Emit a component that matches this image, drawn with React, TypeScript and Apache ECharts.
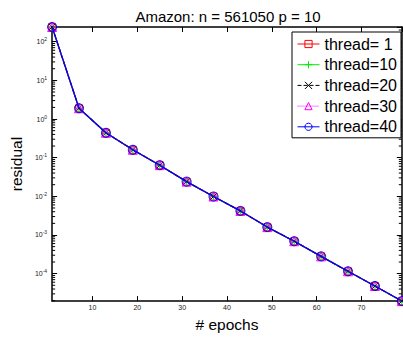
import React, { useEffect, useRef } from 'react';
import * as echarts from 'echarts';

// ---- data ----
const epochs = [1, 7, 13, 19, 25, 31, 37, 43, 49, 55, 61, 67, 73, 79];
const residualThread1 = [240, 1.9, 0.44, 0.16, 0.064, 0.024, 0.0099, 0.0042, 0.0016, 0.00069, 0.00028, 0.000115, 0.000048, 0.0000195];
const residualThread10 = [240, 1.9, 0.44, 0.16, 0.064, 0.024, 0.0099, 0.0042, 0.0016, 0.00069, 0.00028, 0.000115, 0.000048, 0.0000195];
const residualThread20 = [240, 1.9, 0.44, 0.16, 0.064, 0.024, 0.0099, 0.0042, 0.0016, 0.00069, 0.00028, 0.000115, 0.000048, 0.0000195];
const residualThread30 = [240, 1.9, 0.44, 0.16, 0.064, 0.024, 0.0099, 0.0042, 0.0016, 0.00069, 0.00028, 0.000115, 0.000048, 0.0000195];
const residualThread40 = [240, 1.9, 0.44, 0.16, 0.064, 0.024, 0.0099, 0.0042, 0.0016, 0.00069, 0.00028, 0.000115, 0.000048, 0.0000195];
const seriesNames = ['thread= 1', 'thread=10', 'thread=20', 'thread=30', 'thread=40'];
const seriesValues = [residualThread1, residualThread10, residualThread20, residualThread30, residualThread40];

const X_MIN = 1;
const X_MAX = 79;
const Y_MIN = 0.0000195;
const Y_MAX = 240;

const titleText = 'Amazon: n = 561050 p = 10';
const xName = '# epochs';
const yName = 'residual';

// ---- styles ----
const FONT = 'Liberation Sans, Arial, Helvetica, sans-serif';
const seriesStyles = [
  { color: '#ff0000', symbol: 'rect', size: 7, lineType: 'solid' },
  { color: '#00ee00', symbol: 'path://M5,0L5,10M0,5L10,5', size: 8, lineType: 'solid' },
  { color: '#000000', symbol: 'path://M0,0L10,10M10,0L0,10', size: 6, lineType: 'dashed' },
  { color: '#ff00ff', symbol: 'triangle', size: 9, lineType: 'dotted' },
  { color: '#0000ff', symbol: 'circle', size: 9, lineType: 'solid' },
];

// minor tick positions of the log axis (2..9 x 10^k)
const minorTickValues: number[] = [];
for (let e = -5; e <= 2; e++) {
  for (let k = 2; k <= 9; k++) {
    const v = k * Math.pow(10, e);
    if (v > Y_MIN && v < Y_MAX) minorTickValues.push(v);
  }
}

export default function App() {
  const ref = useRef<HTMLDivElement>(null);
  useEffect(() => {
    document.body.style.margin = '0';
    if (!ref.current) return;
    const chart = echarts.init(ref.current, null, { renderer: 'svg' });

    const series: any[] = seriesNames.map((name, i) => {
      const st = seriesStyles[i];
      return {
        name,
        type: 'line',
        data: epochs.map((x, j) => [x, seriesValues[i][j]]),
        symbol: st.symbol,
        symbolSize: st.size,
        showAllSymbol: true,
        lineStyle: { color: st.color, width: 1.2, type: st.lineType },
        itemStyle: { color: 'none', borderColor: st.color, borderWidth: 1 },
        emphasis: { disabled: true },
        z: 3 + i,
        clip: false,
      };
    });

    series.push({
      type: 'custom',
      name: 'minorTicks',
      silent: true,
      clip: false,
      z: 1,
      data: minorTickValues.map((v) => [X_MIN, v]),
      encode: { x: 0, y: 1 },
      renderItem: (params: any, api: any) => {
        const v = api.value(1);
        const a = api.coord([X_MIN, v]);
        const b = api.coord([X_MAX, v]);
        return {
          type: 'group',
          children: [
            { type: 'line', shape: { x1: a[0], y1: a[1], x2: a[0] + 3, y2: a[1] }, style: { stroke: '#000', lineWidth: 1 } },
            { type: 'line', shape: { x1: b[0] - 3, y1: b[1], x2: b[0], y2: b[1] }, style: { stroke: '#000', lineWidth: 1 } },
          ],
        };
      },
    });

    const frameLine = { show: true, lineStyle: { color: '#000', width: 1.5 } };

    chart.setOption({
      animation: false,
      backgroundColor: '#fff',
      title: {
        text: titleText,
        left: 223,
        top: 4,
        textAlign: 'center',
        textStyle: { fontFamily: FONT, fontSize: 15, fontWeight: 'normal', color: '#000' },
      },
      legend: {
        data: seriesNames,
        orient: 'vertical',
        left: 292,
        top: 32,
        padding: [4, 4, 3, 5],
        itemWidth: 22,
        itemHeight: 9,
        itemGap: 4.7,
        backgroundColor: '#fff',
        borderColor: '#000',
        borderWidth: 1,
        selectedMode: false,
        lineStyle: { width: 1 },
        itemStyle: { borderWidth: 1 },
        textStyle: { fontFamily: FONT, fontSize: 16, color: '#000', lineHeight: 14 },
      },
      grid: { left: 45.6, right: 1.2, top: 27, bottom: 28, containLabel: false },
      xAxis: [
        {
          type: 'value',
          min: X_MIN,
          max: X_MAX,
          splitNumber: 8,
          position: 'bottom',
          name: xName,
          nameLocation: 'middle',
          nameGap: 13,
          nameTextStyle: { fontFamily: FONT, fontSize: 15.5, color: '#000' },
          axisLine: frameLine,
          axisTick: { show: true, inside: true, length: 5, lineStyle: { color: '#000', width: 1 } },
          axisLabel: { fontFamily: FONT, fontSize: 7, color: '#222', margin: 3, showMinLabel: false, showMaxLabel: false },
          splitLine: { show: false },
        },
        {
          type: 'value',
          min: X_MIN,
          max: X_MAX,
          splitNumber: 8,
          position: 'top',
          axisLine: frameLine,
          axisTick: { show: true, inside: true, length: 5, lineStyle: { color: '#000', width: 1 } },
          axisLabel: { show: false },
          splitLine: { show: false },
        },
      ],
      yAxis: [
        {
          type: 'log',
          logBase: 10,
          min: Y_MIN,
          max: Y_MAX,
          splitNumber: 7,
          position: 'left',
          name: yName,
          nameLocation: 'middle',
          nameRotate: 90,
          nameGap: 24,
          nameTextStyle: { fontFamily: FONT, fontSize: 15.5, color: '#000' },
          axisLine: frameLine,
          axisTick: { show: true, inside: true, length: 5, lineStyle: { color: '#000', width: 1 } },
          axisLabel: {
            showMinLabel: false,
            showMaxLabel: false,
            margin: 5,
            formatter: (v: number) => {
              const e = Math.round(Math.log10(v));
              return '{b|10}{s|' + e + '}';
            },
            rich: {
              b: { fontFamily: FONT, fontSize: 7, color: '#222' },
              s: { fontFamily: FONT, fontSize: 5, color: '#222', verticalAlign: 'bottom', padding: [0, 0, 5, 0] },
            },
          },
          splitLine: { show: false },
        },
        {
          type: 'log',
          logBase: 10,
          min: Y_MIN,
          max: Y_MAX,
          splitNumber: 7,
          position: 'right',
          axisLine: frameLine,
          axisTick: { show: true, inside: true, length: 5, lineStyle: { color: '#000', width: 1 } },
          axisLabel: { show: false },
          splitLine: { show: false },
        },
      ],
      series,
    });
    return () => chart.dispose();
  }, []);
  return <div ref={ref} style={{ width: 403, height: 337 }} />;
}
